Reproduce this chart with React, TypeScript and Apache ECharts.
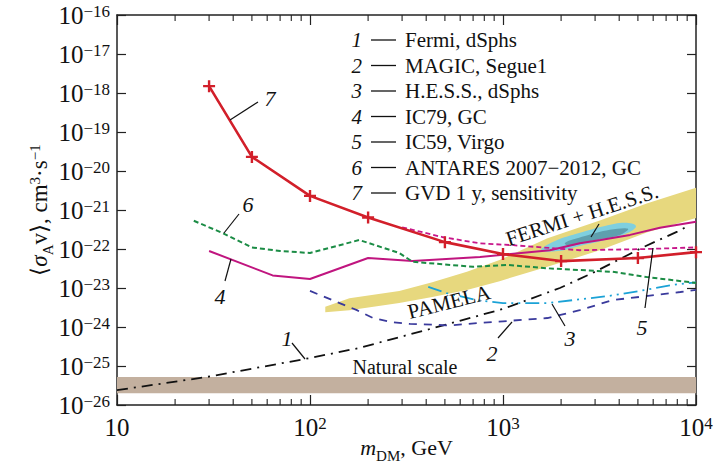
import React, { useEffect, useRef } from "react";
import * as echarts from "echarts";

const FONT = "Liberation Serif, Times New Roman, serif";

// ---------- data (GeV, cm^3 s^-1) ----------
const GVD_X = [30, 50, 100, 200, 500, 1000, 2000, 5000, 10000];
const GVD_Y = [1.5e-18, 2.3e-20, 2.3e-21, 6.4e-22, 1.5e-22, 7.4e-23, 4.9e-23, 5.9e-23, 8.3e-23];

const ANTARES_X = [25, 35, 50, 70, 100, 180, 290, 340, 700, 1050, 1700, 3700, 5600, 10000];
const ANTARES_Y = [5.3e-22, 2.6e-22, 1.1e-22, 8.9e-23, 7.9e-23, 1.7e-22, 7.9e-23, 4.7e-23, 3.5e-23, 3.9e-23, 3.2e-23, 2.6e-23, 1.9e-23, 1.35e-23];

const IC79_X = [30, 64, 100, 200, 340, 760, 1000, 1750, 2500, 3200, 4550, 6500, 10000];
const IC79_Y = [8.9e-23, 2.1e-23, 1.7e-23, 5.9e-23, 4.9e-23, 6.2e-23, 7.1e-23, 9.3e-23, 1.4e-22, 1.7e-22, 2.3e-22, 3.5e-22, 5.0e-22];

const IC59_X = [300, 490, 760, 1130, 2500, 5600, 10000];
const IC59_Y = [3.6e-22, 2.0e-22, 1.4e-22, 1.25e-22, 9.3e-23, 1.0e-22, 1.1e-22];

const MAGIC_X = [100, 175, 212, 260, 330, 530, 760, 1000, 1700, 2500, 3700, 5100, 8300, 10000];
const MAGIC_Y = [8.4e-24, 2.7e-24, 1.7e-24, 1.35e-24, 1.2e-24, 1.1e-24, 1.27e-24, 1.4e-24, 1.7e-24, 2.7e-24, 4.9e-24, 5.9e-24, 7.9e-24, 8.9e-24];

const HESS_X = [410, 510, 730, 1000, 1700, 3500, 5100, 7600, 10000];
const HESS_Y = [1.07e-23, 7.4e-24, 4.9e-24, 4.1e-24, 4.1e-24, 6.2e-24, 8.4e-24, 1.2e-23, 1.4e-23];

const FERMI_X = [10, 29, 100, 180, 490, 1000, 1970, 2900, 5300, 8000, 9300];
const FERMI_Y = [2.4e-26, 5.2e-26, 1.6e-25, 2.9e-25, 1.1e-24, 2.9e-24, 1.0e-23, 2.4e-23, 1.1e-22, 2.8e-22, 4.1e-22];

// PAMELA / FERMI+H.E.S.S. band
const BAND_X = [120, 160, 290, 430, 650, 960, 1700, 3200, 5600, 10000];
const BAND_UP = [3.3e-24, 5.5e-24, 8.4e-24, 1.4e-23, 2.6e-23, 5.2e-23, 1.9e-22, 5.5e-22, 1.5e-21, 3.7e-21];
const BAND_LO = [2.4e-24, 2.7e-24, 4.1e-24, 5.9e-24, 8.9e-24, 1.5e-23, 3.5e-23, 9.4e-23, 2.7e-22, 6.2e-22];

// FERMI + H.E.S.S. best-fit contours
const BLOB_OUT_X = [1574, 1860, 2506, 3375, 4285, 4886, 4445, 3375, 2506, 1928];
const BLOB_OUT_Y = [9.3e-23, 1.6e-22, 2.6e-22, 3.9e-22, 4.7e-22, 3.9e-22, 2.6e-22, 1.7e-22, 1.2e-22, 8.9e-23];
const BLOB_IN_X = [2094, 2660, 3580, 4445, 4040, 3000, 2220];
const BLOB_IN_Y = [1.43e-22, 2.15e-22, 3.1e-22, 3.3e-22, 2.3e-22, 1.7e-22, 1.2e-22];

// natural scale band
const NAT_X = [10, 10000];
const NAT_LO = [2.0e-26, 2.0e-26];
const NAT_UP = [5.2e-26, 5.2e-26];

const LEGEND_ITEMS = [
  "Fermi, dSphs",
  "MAGIC, Segue1",
  "H.E.S.S., dSphs",
  "IC79, GC",
  "IC59, Virgo",
  "ANTARES 2007\u22122012, GC",
  "GVD 1 y, sensitivity",
];

const X_MIN = 10, X_MAX = 10000;
const Y_MIN = 1e-26, Y_MAX = 1e-16;
const X_MINOR = [20, 30, 40, 50, 60, 70, 80, 90, 200, 300, 400, 500, 600, 700, 800, 900, 2000, 3000, 4000, 5000, 6000, 7000, 8000, 9000];

const lg = (v: number) => Math.log10(v);
const pts = (xs: number[], ys: number[]) => xs.map((x, i) => [lg(x), lg(ys[i])]);

function lineSeries(xs: number[], ys: number[], color: string, width: number, dash: any, extra: any = {}) {
  return {
    type: "line",
    data: pts(xs, ys),
    symbol: "none",
    showSymbol: false,
    silent: true,
    z: 5,
    lineStyle: { color, width, type: dash },
    ...extra,
  };
}

function bandSeries(xs: number[], up: number[], lo: number[], fill: string, z: number) {
  return {
    type: "custom",
    silent: true,
    z,
    data: [[lg(xs[0]), lg(up[0])]],
    renderItem: (_p: any, api: any) => {
      const points: number[][] = [];
      xs.forEach((x, i) => points.push(api.coord([lg(x), lg(up[i])])));
      for (let i = xs.length - 1; i >= 0; i--) points.push(api.coord([lg(xs[i]), lg(lo[i])]));
      return { type: "polygon", shape: { points }, style: { fill } };
    },
  };
}

function blobSeries(xs: number[], ys: number[], fill: string, z: number) {
  return {
    type: "custom",
    silent: true,
    z,
    data: [[lg(xs[0]), lg(ys[0])]],
    renderItem: (_p: any, api: any) => {
      const points = xs.map((x, i) => api.coord([lg(x), lg(ys[i])]));
      return { type: "polygon", shape: { points, smooth: 0.4 }, style: { fill } };
    },
  };
}

const txt = (x: number, y: number, text: string, size: number, opts: any = {}) => ({
  type: "text",
  x,
  y,
  rotation: opts.rotation || 0,
  silent: true,
  z: 20,
  style: {
    text,
    fontSize: size,
    fontFamily: FONT,
    fontStyle: opts.italic ? "italic" : "normal",
    fill: "#111",
    align: opts.align || "center",
    textAlign: opts.align || "center",
    verticalAlign: "middle",
    textVerticalAlign: "middle",
  },
});
const seg = (x1: number, y1: number, x2: number, y2: number, w = 1.2) => ({
  type: "line",
  silent: true,
  z: 20,
  shape: { x1, y1, x2, y2 },
  style: { stroke: "#111", lineWidth: w },
});

export default function App() {
  const ref = useRef<HTMLDivElement>(null);
  useEffect(() => {
    if (!ref.current) return;
    const chart = echarts.init(ref.current, undefined, { renderer: "svg" });

    const labelRich = {
      b: { fontSize: 25, fontFamily: FONT, color: "#111", lineHeight: 25 },
      sup: { fontSize: 17, fontFamily: FONT, color: "#111", verticalAlign: "top", lineHeight: 16 },
    };
    const axisCommon = {
      type: "value",
      axisLine: { show: true, onZero: false, lineStyle: { color: "#222", width: 1.5 } },
      splitLine: { show: false },
    };

    const legend: any[] = [];
    LEGEND_ITEMS.forEach((t, i) => {
      const y = 40 + i * 25.5;
      legend.push(txt(362, y, String(i + 1), 21, { italic: true, align: "right" }));
      legend.push(seg(371, y, 396, y, 1.3));
      legend.push(txt(405, y, t, 21, { align: "left" }));
    });

    const annotations: any[] = [
      txt(270, 98, "7", 22, { italic: true }), seg(230, 120, 258, 102),
      txt(248, 204, "6", 22, { italic: true }), seg(239, 214, 224, 233),
      txt(220, 296, "4", 22, { italic: true }), seg(231, 259, 225, 281),
      txt(287, 338, "1", 22, { italic: true }), seg(292, 343, 305, 359),
      txt(492, 353, "2", 22, { italic: true }), seg(498, 338, 512, 322),
      txt(570, 338, "3", 22, { italic: true }), seg(565, 326, 552, 304),
      txt(642, 327, "5", 22, { italic: true }), seg(645, 308, 653, 248),
      seg(591, 237, 599, 224),
      txt(405, 367, "Natural scale", 20),
      txt(449, 302, "PAMELA", 21, { rotation: (14 * Math.PI) / 180 }),
      txt(582, 215, "FERMI + H.E.S.S.", 21, { rotation: (18 * Math.PI) / 180 }),
    ];

    const option: any = {
      animation: false,
      backgroundColor: "#fff",
      textStyle: { fontFamily: FONT },
      grid: { left: 117, top: 15, width: 579, height: 390, containLabel: false, outerBoundsMode: "none" },
      xAxis: [
        {
          ...axisCommon,
          position: "bottom",
          min: lg(X_MIN),
          max: lg(X_MAX),
          interval: 1,
          axisTick: { show: true, inside: true, length: 10, lineStyle: { color: "#222", width: 1.2 } },
          axisLabel: {
            margin: 10,
            formatter: (v: number) => (v === 1 ? "{b|10}" : `{b|10}{sup|${v}}`),
            rich: labelRich,
          },
          name: "{i|m}{sub|DM}{b|, GeV}",
          nameLocation: "middle",
          nameGap: 30,
          nameMoveOverlap: false,
          nameTextStyle: {
            rich: {
              i: { fontSize: 22, fontFamily: FONT, fontStyle: "italic", color: "#111", lineHeight: 24 },
              b: { fontSize: 22, fontFamily: FONT, color: "#111", lineHeight: 24 },
              sub: { fontSize: 15, fontFamily: FONT, color: "#111", verticalAlign: "bottom", lineHeight: 15, padding: [0, 0, -4, 0] },
            },
          },
        },
        {
          ...axisCommon,
          position: "top",
          min: lg(X_MIN),
          max: lg(X_MAX),
          interval: 1,
          axisTick: { show: true, inside: true, length: 10, lineStyle: { color: "#222", width: 1.2 } },
          axisLabel: { show: false },
        },
      ],
      yAxis: [
        {
          ...axisCommon,
          position: "left",
          min: lg(Y_MIN),
          max: lg(Y_MAX),
          interval: 1,
          axisTick: { show: true, inside: true, length: 9, lineStyle: { color: "#222", width: 1.2 } },
          axisLabel: {
            margin: 7,
            formatter: (v: number) => `{b|10}{sup|\u2212${Math.abs(Math.round(v))}}`,
            rich: labelRich,
          },
          name: "{b|\u27E8}{i|\u03C3}{sub|A}{b|v\u27E9, cm}{sup|3}{b|\u00B7s}{sup|\u22121}",
          nameLocation: "middle",
          nameRotate: 90,
          nameGap: 66,
          nameMoveOverlap: false,
          nameTextStyle: {
            rich: {
              i: { fontSize: 23, fontFamily: FONT, fontStyle: "italic", color: "#111", lineHeight: 24 },
              b: { fontSize: 23, fontFamily: FONT, color: "#111", lineHeight: 24 },
              sub: { fontSize: 15, fontFamily: FONT, color: "#111", verticalAlign: "bottom", lineHeight: 15, padding: [0, 0, -4, 0] },
              sup: { fontSize: 15, fontFamily: FONT, color: "#111", verticalAlign: "top", lineHeight: 15 },
            },
          },
        },
        {
          ...axisCommon,
          position: "right",
          min: lg(Y_MIN),
          max: lg(Y_MAX),
          interval: 1,
          axisTick: { show: true, inside: true, length: 9, lineStyle: { color: "#222", width: 1.2 } },
          axisLabel: { show: false },
        },
      ],
      series: [
        bandSeries(NAT_X, NAT_UP, NAT_LO, "#c3b09f", 1),
        bandSeries(BAND_X, BAND_UP, BAND_LO, "#e7d87e", 2),
        blobSeries(BLOB_OUT_X, BLOB_OUT_Y, "#7fcfdf", 3),
        blobSeries(BLOB_IN_X, BLOB_IN_Y, "#5f9fae", 3),
        lineSeries(FERMI_X, FERMI_Y, "#111", 1.8, [11, 6, 2, 6]),
        lineSeries(MAGIC_X, MAGIC_Y, "#3a3a9c", 1.8, [8, 7]),
        lineSeries(HESS_X, HESS_Y, "#1ba2d6", 1.8, [14, 5, 2, 5, 2, 5]),
        lineSeries(IC79_X, IC79_Y, "#c0157f", 2, "solid"),
        lineSeries(IC59_X, IC59_Y, "#c8168a", 1.8, [5, 3]),
        lineSeries(ANTARES_X, ANTARES_Y, "#1b8c45", 2, [5, 3]),
        lineSeries(GVD_X, GVD_Y, "#d21f2a", 2.6, "solid", {
          symbol: "path://M4,0H6V4H10V6H6V10H4V6H0V4H4Z",
          showSymbol: true,
          symbolSize: 12,
          itemStyle: { color: "#d21f2a" },
          z: 6,
        }),
        {
          type: "custom",
          silent: true,
          z: 10,
          data: X_MINOR.map((v) => [lg(v), lg(Y_MIN)]),
          renderItem: (_p: any, api: any) => {
            const x = api.value(0);
            const b = api.coord([x, lg(Y_MIN)]);
            const t = api.coord([x, lg(Y_MAX)]);
            return {
              type: "group",
              children: [
                { type: "line", shape: { x1: b[0], y1: b[1], x2: b[0], y2: b[1] - 6 }, style: { stroke: "#222", lineWidth: 1.1 } },
                { type: "line", shape: { x1: t[0], y1: t[1], x2: t[0], y2: t[1] + 6 }, style: { stroke: "#222", lineWidth: 1.1 } },
              ],
            };
          },
        },
      ],
      graphic: [...legend, ...annotations],
    };
    chart.setOption(option);
    return () => chart.dispose();
  }, []);
  return (
    <div
      ref={ref}
      style={{ position: "absolute", left: 0, top: 0, width: 718, height: 464, background: "#fff" }}
    />
  );
}
